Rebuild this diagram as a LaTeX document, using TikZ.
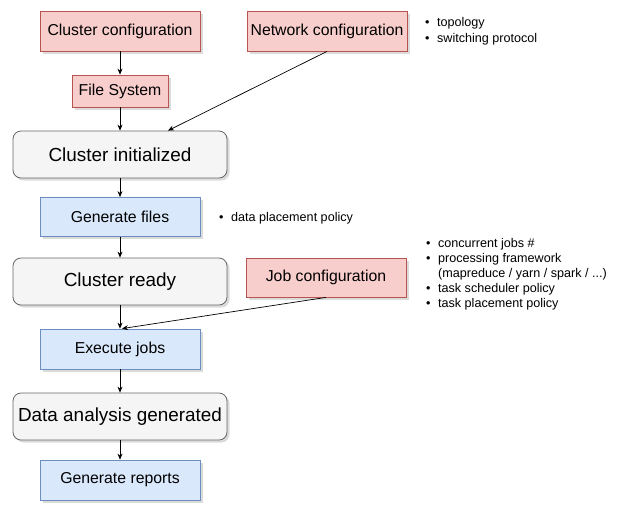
\documentclass[tikz,border=0pt]{standalone}
\usepackage{fontspec}
\setmainfont{Liberation Sans}
\usetikzlibrary{shadows,arrows.meta,calc}
\definecolor{pinkfill}{HTML}{F8CECC}
\definecolor{pinkline}{HTML}{B85450}
\definecolor{bluefill}{HTML}{DAE8FC}
\definecolor{blueline}{HTML}{6C8EBF}
\definecolor{grayfill}{HTML}{F5F5F5}
\definecolor{grayline}{HTML}{666666}
\newcommand{\bulletlist}[1]{\begin{tabular}{@{}l@{\hspace{7.5pt}}l@{}}#1\end{tabular}}

\begin{document}
\begin{tikzpicture}[x=1pt,y=-1pt,
  box/.style={draw, line width=0.8pt, inner sep=0pt,
    drop shadow={shadow xshift=2.5pt, shadow yshift=-2.5pt, opacity=0.14, fill=black},
    font=\fontsize{15.8}{18}\selectfont},
  config/.style={box, fill=pinkfill, draw=pinkline},
  task/.style={box, fill=bluefill, draw=blueline, minimum width=160pt, minimum height=40pt},
  state/.style={box, fill=grayfill, draw=grayline, rounded corners=8pt,
    minimum width=214pt, minimum height=47pt, font=\fontsize{18.9}{22}\selectfont},
  flow/.style={-{Stealth[length=6pt,width=5pt]}, line width=0.7pt},
  note/.style={inner sep=0pt, anchor=west, font=\fontsize{12.6}{15.2}\selectfont}]

\useasboundingbox (0,0) rectangle (617,504);

% configuration inputs
\node[config, minimum width=160pt, minimum height=40pt] (cc) at (120,31) {Cluster configuration};
\node[config, minimum width=160pt, minimum height=40pt] (nc) at (327,31) {Network configuration};
\node[config, minimum width=96pt, minimum height=32pt] (fs) at (120,91) {File System};
\node[config, minimum width=160pt, minimum height=39pt] (jc) at (326,277.5) {Job configuration};

% main flow
\node[state] (ci) at (120,154.5) {Cluster initialized};
\node[task, minimum height=39pt] (gf) at (120,217) {Generate files};
\node[state] (cr) at (120,281.5) {Cluster ready};
\node[task] (ej) at (120,349) {Execute jobs};
\node[state] (da) at (120,416.5) {Data analysis generated};
\node[task] (gr) at (120,480) {Generate reports};

% parameter notes
\node[note] (netnote) at (425,31.5)
  {\bulletlist{\textbullet & topology\\ \textbullet & switching protocol}};
\node[note] (filenote) at (219,218.5)
  {\bulletlist{\textbullet & data placement policy}};
\node[note] (jobnote) at (426,274.5)
  {\bulletlist{\textbullet & concurrent jobs \#\\
               \textbullet & processing framework\\
                           & (mapreduce / yarn / spark / ...)\\
               \textbullet & task scheduler policy\\
               \textbullet & task placement policy}};

% connectors
\coordinate (ciin) at ($(ci.north)+(48,0)$);
\coordinate (ejin) at ($(ej.north)+(2,0)$);
\draw[flow] (cc) -- (fs);
\draw[flow] (fs) -- (ci);
\draw[flow] (nc.south) -- (ciin);
\draw[flow] (ci) -- (gf);
\draw[flow] (gf) -- (cr);
\draw[flow] (cr) -- (ej);
\draw[flow] (jc.south) -- (ejin);
\draw[flow] (ej) -- (da);
\draw[flow] (da) -- (gr);
\end{tikzpicture}
\end{document}
